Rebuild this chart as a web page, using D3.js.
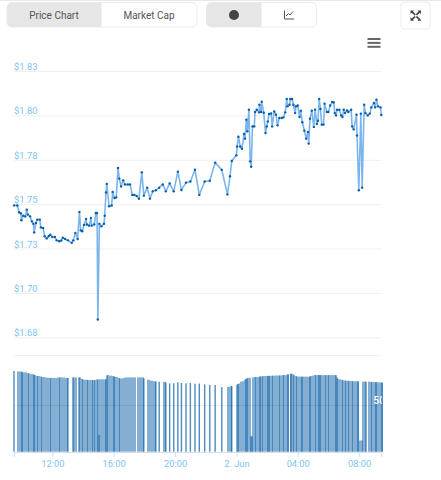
<!DOCTYPE html>
<html><head><meta charset="utf-8">
<script src="https://cdnjs.cloudflare.com/ajax/libs/d3/7.8.5/d3.min.js"></script>
<style>
html,body{margin:0;padding:0;background:#fff;overflow:hidden}
svg{display:block;font-family:Roboto,"Liberation Sans",sans-serif}
</style></head><body><svg id="c" width="441" height="480"></svg>
<script>
// minutes since 09:30 on 1 Jun
const minutes=[0,13,20,27,29,36,44,50,54,63,
70,76,79,86,91,101,105,114,120,128,
136,142,150,160,167,177,185,191,200,211,
226,232,240,249,256,261,267,274,282,285,
294,301,304,314,320,325,328,334,342,352,
355,360,363,372,382,386,393,400,407,412,
419,427,434,445,454,463,471,480,489,500,
508,521,532,543,555,568,582,594,609,625,
641,655,673,690,708,725,746,766,787,813,
835,845,852,870,873,878,885,892,900,904,
909,913,919,924,928,933,940,943,950,959,
960,967,969,977,984,989,993,998,1006,1010,
1018,1025,1031,1038,1048,1054,1061,1067,1070,1078,
1081,1088,1093,1100,1103,1110,1117,1122,1128,1136,
1143,1150,1153,1158,1165,1173,1178,1185,1189,1194,
1199,1204,1211,1215,1224,1230,1237,1245,1251,1255,
1260,1264,1273,1280,1285,1290,1295,1303,1308,1319,
1323,1329,1340,1342,1349,1357,1362,1370,1375,1384,
1392,1398,1408,1413,1418,1424,1434,1437];
const prices=[1.7493,1.7492,1.7454,1.7447,1.7409,1.7435,1.7431,1.7469,1.7441,1.7431,
1.7403,1.7389,1.7341,1.7394,1.7413,1.7413,1.7369,1.7366,1.7319,1.7307,
1.7319,1.7328,1.7315,1.7315,1.7296,1.7291,1.7295,1.7311,1.7304,1.7296,
1.7282,1.7296,1.7338,1.7304,1.7456,1.7352,1.7347,1.7383,1.7417,1.7385,
1.7379,1.7422,1.7379,1.7386,1.7450,1.7450,1.6850,1.7389,1.7375,1.7390,
1.7435,1.7566,1.7614,1.7488,1.7492,1.7569,1.7535,1.7538,1.7704,1.7644,
1.7600,1.7634,1.7611,1.7611,1.7611,1.7552,1.7552,1.7546,1.7531,1.7679,
1.7548,1.7593,1.7531,1.7572,1.7578,1.7593,1.7611,1.7572,1.7617,1.7572,
1.7683,1.7580,1.7621,1.7628,1.7694,1.7552,1.7628,1.7632,1.7734,1.7693,
1.7555,1.7657,1.7743,1.7775,1.7825,1.7880,1.7825,1.7812,1.7895,1.7869,
1.7976,1.7910,1.8032,1.7741,1.7711,1.7938,1.7938,1.8019,1.8032,1.8017,
1.8060,1.8019,1.8077,1.8015,1.7901,1.7938,1.7966,1.8008,1.8011,1.7938,
1.8022,1.8004,1.7944,1.7985,1.7985,1.7989,1.8017,1.8092,1.8051,1.8060,
1.8092,1.8092,1.8060,1.8013,1.8051,1.8056,1.7991,1.8026,1.7961,1.7914,
1.7869,1.7906,1.7841,1.7981,1.8026,1.7935,1.8032,1.7952,1.7970,1.8092,
1.8036,1.7948,1.7948,1.8066,1.8019,1.8019,1.8056,1.8075,1.8073,1.8013,
1.8000,1.8032,1.8032,1.8000,1.7991,1.8032,1.8013,1.8028,1.8019,1.8032,
1.7938,1.7921,1.8004,1.7887,1.7578,1.8010,1.7593,1.8060,1.8013,1.8000,
1.8010,1.8045,1.8070,1.8045,1.8088,1.8051,1.8045,1.8002];
// traded volume, millions of USD
const volumes=[86.4,86,86,85.5,85.5,85,85,84,84,83,
83,82.5,82,81,81,80.5,80,80,79.5,79.3,
79,79,79,79,79.5,79.5,79.5,79.5,79,79,
79.5,79.5,79.5,79.5,79.6,78,77.5,77,77,76.7,
76.7,76.7,76.7,76.7,77.3,77.5,18,77.5,77.5,77.5,
77.5,81.7,82,81.5,81,80.5,80.3,80,79,78.5,
78.5,79,79.6,79.6,79.6,79.6,79.6,79.6,79.6,79.6,
78.5,77,76,75.5,75,75,74.9,74,73.2,73.2,
74.3,73.5,73.2,73.5,72.8,73,72,71.5,71.4,69.2,
69.5,70,70.5,71.7,72.5,73,75,75.5,77,78,
78.5,79,79.2,17,16,79.5,79.9,80,79.9,80.5,
80.5,80.5,81,81,81,81.3,81,81.3,81.3,81.5,
81.5,81.7,81.5,81.7,82,82,82,82.5,83,83.5,
83.5,83,82,81,80.5,80.5,80.3,80.3,80.3,80.3,
80.3,80.3,80.5,81,81.5,82,82,82,82,82,
82,82,82,82,82,82,82,82,82,82,
79.5,78,77.5,77,76.5,76.3,76,76,75.8,75.6,
75.5,75.5,75.3,75.3,12,12,75,75,75,75,
74.8,74.6,74.5,74.5,74.3,74.2,74,74];
const priceTicks=[1.675,1.7,1.725,1.75,1.775,1.8,1.825];
const priceLabels=["$1.68","$1.70","$1.73","$1.75","$1.78","$1.80","$1.83"];
const timeTickMinutes=[150,390,630,870,1110,1350];
const timeLabels=["12:00","16:00","20:00","2. Jun","04:00","08:00"];
const volumeTicks=[50];
const volumeLabels=["50M"];
const buttonLabels=["Price Chart","Market Cap"];

const svg=d3.select("#c");
const L=14,R=381.3;
const t0=Date.UTC(2020,5,1,9,30);
const toDate=m=>new Date(t0+m*60000);
const x=d3.scaleUtc().domain([toDate(0),toDate(1437)]).range([L,R]);
const y=d3.scaleLinear().domain([1.675,1.825]).range([337.3,71]);
const yv=d3.scaleLinear().domain([0,50]).range([451.7,405]);
const GRID="#efefef",LBL="#7cc4f4";

svg.append("rect").attr("width",441).attr("height",1).attr("fill","#e8e8e8");

function rr(g,a,b,c,d,fill,stroke,r){g.append("rect").attr("x",a).attr("y",b).attr("width",c).attr("height",d).attr("rx",r).attr("fill",fill).attr("stroke",stroke)}
const ui=svg.append("g");
rr(ui,7,2.5,190,24.5,"#fff","#ececec",5);
ui.append("path").attr("d","M101.5 2.5H12a5 5 0 0 0-5 5V22a5 5 0 0 0 5 5h89.5z").attr("fill","#e6e6e6");
rr(ui,206.5,2.5,110,24.5,"#fff","#ececec",5);
ui.append("path").attr("d","M261.5 2.5H211.5a5 5 0 0 0-5 5V22a5 5 0 0 0 5 5h50z").attr("fill","#e6e6e6");
rr(ui,401,2,29,27,"#fff","#ececec",3);
ui.selectAll("text.b").data(buttonLabels).join("text").attr("class","b")
 .attr("x",(d,i)=>i?149:54).attr("y",19).attr("text-anchor","middle")
 .attr("font-size",10).attr("fill","#555").text(d=>d);
ui.append("circle").attr("cx",234).attr("cy",15).attr("r",5).attr("fill","#444");
ui.append("path").attr("d","M284.5 10.5v8.5h9.5M286 16l2.5-2.5 1.5 1.5 3-3.5").attr("fill","none").attr("stroke","#555").attr("stroke-width",1);
ui.append("path").attr("d","M410.5 10.5h3.5l-1 1 2.7 2.7-1.2 1.2-2.7-2.7-1.3 1.3zM421 10.5h-3.5l1 1-2.7 2.7 1.2 1.2 2.7-2.7 1.3 1.3zM410.5 20.8h3.5l-1-1 2.7-2.7-1.2-1.2-2.7 2.7-1.3-1.3zM421 20.8h-3.5l1-1-2.7-2.7 1.2-1.2 2.7 2.7 1.3 1.3z").attr("fill","#444");
svg.selectAll("rect.m").data(["a","b","c"]).join("rect").attr("class","m")
 .attr("x",367.5).attr("y",(d,i)=>38+i*3.9).attr("width",13).attr("height",2).attr("fill","#666");

const ya=d3.axisRight(y).tickValues(priceTicks).tickSize(R-L).tickFormat((d,i)=>priceLabels[i]);
const gy=svg.append("g").attr("transform",`translate(${L},0)`).call(ya);
gy.select(".domain").remove();
gy.selectAll("line").attr("stroke",GRID);
gy.selectAll("text").attr("x",0).attr("dy",-1.5).attr("text-anchor","start").attr("font-size",9.3).attr("fill",LBL).attr("font-family","Roboto,sans-serif");

svg.append("line").attr("x1",L).attr("x2",R).attr("y1",355.5).attr("y2",355.5).attr("stroke",GRID);

// bars: pixel-snapped; adjoining points form a band (with darker overlaps), isolated points stay thin
const px=minutes.map(d=>x(toDate(d)));
const gapAfter=i=>i<px.length-1?px[i+1]-px[i]:1.5;
const isDense=i=>gapAfter(i)<=3.2;
svg.append("g").selectAll("rect").data(minutes).join("rect")
 .attr("x",(d,i)=>isDense(i)?Math.round(px[i]):px[i]-.7)
 .attr("width",(d,i)=>isDense(i)?Math.max(2,Math.round(gapAfter(i))):1.4)
 .attr("y",(d,i)=>yv(volumes[i])).attr("height",(d,i)=>yv(0)-yv(volumes[i]))
 .attr("fill","#0a5fa8").attr("fill-opacity",(d,i)=>isDense(i)?.5:.72);

const va=d3.axisRight(yv).tickValues(volumeTicks).tickSize(R-L).tickFormat("");
const gv=svg.append("g").attr("transform",`translate(${L},0)`).call(va);
gv.select(".domain").remove();
gv.selectAll("line").attr("stroke","#000").attr("stroke-opacity",.07);
svg.append("clipPath").attr("id","vc").append("rect").attr("x",L).attr("y",380).attr("width",R-L+.5).attr("height",40);
svg.append("g").attr("clip-path","url(#vc)").selectAll("text").data(volumeLabels).join("text")
 .attr("x",373.5).attr("y",(d,i)=>yv(volumeTicks[i])-1)
 .attr("font-size",10).attr("font-weight",500).attr("fill","#fff").text(d=>d);

const xa=d3.axisBottom(x).tickValues(timeTickMinutes.map(toDate)).tickSize(5).tickPadding(3)
 .tickFormat((d,i)=>timeLabels[i]);
const gx=svg.append("g").attr("transform","translate(0,452)").call(xa);
gx.select(".domain").attr("stroke","#d5dfec");
gx.selectAll("line").attr("stroke","#cfe0ee");
gx.selectAll("text").attr("font-size",9.3).attr("fill",LBL).attr("font-family","Roboto,sans-serif");

const line=d3.line().x((d,i)=>x(toDate(d))).y((d,i)=>y(prices[i]));
svg.append("path").attr("d",line(minutes)).attr("fill","none").attr("stroke","#7cb5ec").attr("stroke-width",1.6).attr("stroke-linejoin","round");
svg.append("g").selectAll("circle").data(minutes).join("circle")
 .attr("cx",d=>x(toDate(d))).attr("cy",(d,i)=>y(prices[i])).attr("r",1.2).attr("fill","#0b5ea8");
</script></body></html>
